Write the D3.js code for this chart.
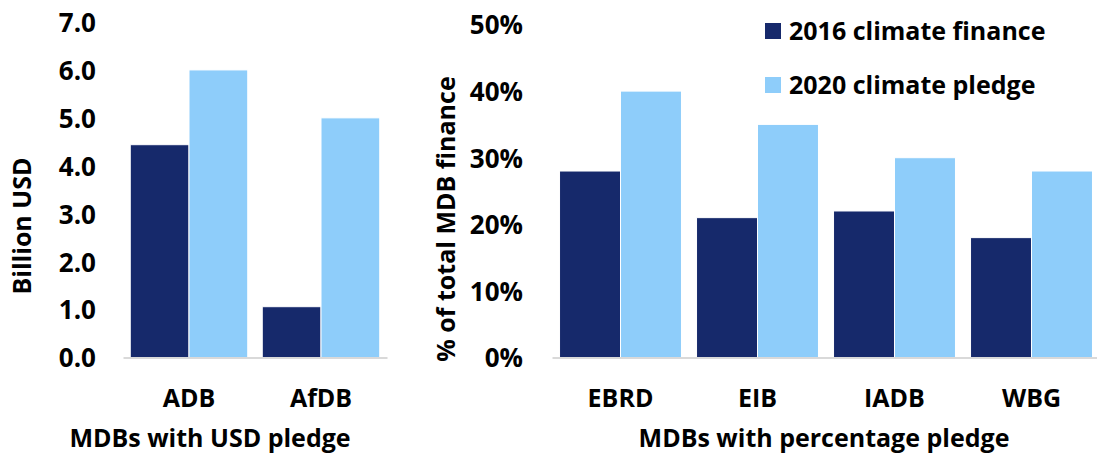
<!DOCTYPE html>
<html>
<head>
<meta charset="utf-8">
<script src="https://cdn.jsdelivr.net/npm/d3@7"></script>
<style>
  body { margin: 0; background: #fff; }
  svg text { font-family: 'Open Sans', 'Noto Sans', sans-serif; font-weight: 700; fill: #000; }
</style>
</head>
<body>
<svg id="chart" width="1097" height="458"></svg>
<script>
// data
var series = ['2016 climate finance', '2020 climate pledge'];
var colors = ['#16296b', '#8ecdfa'];

var usdBanks = ['ADB', 'AfDB'];
var usd2016 = [4.44, 1.06];
var usd2020 = [6.0, 5.0];
var usdTicks = [0, 1, 2, 3, 4, 5, 6, 7];

var pctBanks = ['EBRD', 'EIB', 'IADB', 'WBG'];
var pct2016 = [28, 21, 22, 18];
var pct2020 = [40, 35, 30, 28];
var pctTicks = [0, 10, 20, 30, 40, 50];

var svg = d3.select('#chart');
var fontSize = 25;
var tickFontSize = 26;

var drawPanel = function(opts) {
  var g = svg.append('g').attr('class', 'panel');

  var x = d3.scaleBand()
    .domain(opts.cats)
    .range(opts.xRange)
    .paddingInner(0.11)
    .paddingOuter(0.055);
  var sub = d3.scaleBand()
    .domain(series)
    .range([0, x.bandwidth()]);
  var y = d3.scaleLinear()
    .domain(opts.yDomain)
    .range(opts.yRange);

  var rows = opts.cats.map(function(c, i) {
    return { cat: c, vals: [opts.a[i], opts.b[i]] };
  });

  // bars
  g.append('g').selectAll('g')
    .data(rows)
    .enter().append('g')
    .attr('transform', function(d) { return 'translate(' + x(d.cat) + ',0)'; })
    .selectAll('rect')
    .data(function(d) { return d.vals.map(function(v, j) { return { s: series[j], v: v, j: j }; }); })
    .enter().append('rect')
    .attr('x', function(d) { return sub(d.s); })
    .attr('y', function(d) { return y(d.v); })
    .attr('width', sub.bandwidth())
    .attr('height', function(d) { return y(0) - y(d.v); })
    .attr('fill', function(d) { return colors[d.j]; })
    .attr('stroke', '#fff')
    .attr('stroke-width', 1);

  // x axis: grey baseline + category labels
  var xAxis = g.append('g')
    .attr('transform', 'translate(0,' + y(0) + ')')
    .call(d3.axisBottom(x).tickSize(0).tickSizeOuter(0));
  xAxis.select('.domain').attr('stroke', '#d9d9d9').attr('stroke-width', 2);
  xAxis.selectAll('text')
    .attr('y', 40)
    .attr('dy', '0.36em')
    .style('font-size', fontSize + 'px');

  // y axis: labels only
  var yAxis = g.append('g')
    .attr('transform', 'translate(' + opts.yLabelX + ',0)')
    .call(d3.axisLeft(y).tickValues(opts.ticks).tickSize(0).tickPadding(0).tickFormat(opts.fmt));
  yAxis.select('.domain').remove();
  yAxis.selectAll('text')
    .attr('dy', '0.36em')
    .style('font-size', tickFontSize + 'px');

  // axis titles
  g.append('text')
    .attr('x', (opts.xRange[0] + opts.xRange[1]) / 2 + opts.titleShift)
    .attr('y', 447)
    .attr('text-anchor', 'middle')
    .style('font-size', fontSize + 'px')
    .text(opts.xTitle);

  g.append('text')
    .attr('transform', 'translate(' + opts.yTitlePos[0] + ',' + opts.yTitlePos[1] + ') rotate(-90)')
    .attr('text-anchor', 'middle')
    .style('font-size', fontSize + 'px')
    .text(opts.yTitle);
};

drawPanel({
  cats: usdBanks, a: usd2016, b: usd2020,
  xRange: [123, 387], yDomain: [0, 7], yRange: [357.5, 22],
  ticks: usdTicks, fmt: d3.format('.1f'), yLabelX: 96,
  xTitle: 'MDBs with USD pledge', titleShift: -45,
  yTitle: 'Billion USD', yTitlePos: [31, 226]
});

drawPanel({
  cats: pctBanks, a: pct2016, b: pct2020,
  xRange: [552, 1100], yDomain: [0, 50], yRange: [357.5, 24.5],
  ticks: pctTicks, fmt: function(d) { return d + '%'; }, yLabelX: 523,
  xTitle: 'MDBs with percentage pledge', titleShift: -2,
  yTitle: '% of total MDB finance', yTitlePos: [455, 219]
});

// legend
var legend = svg.append('g').attr('class', 'legend')
  .selectAll('g')
  .data(series)
  .enter().append('g')
  .attr('transform', function(d, i) { return 'translate(765,' + (31 + i * 54) + ')'; });
legend.append('rect')
  .attr('x', 0).attr('y', -8)
  .attr('width', 16).attr('height', 16)
  .attr('fill', function(d, i) { return colors[i]; });
legend.append('text')
  .attr('x', 24)
  .attr('dy', '0.36em')
  .style('font-size', fontSize + 'px')
  .text(function(d) { return d; });
</script>
</body>
</html>
